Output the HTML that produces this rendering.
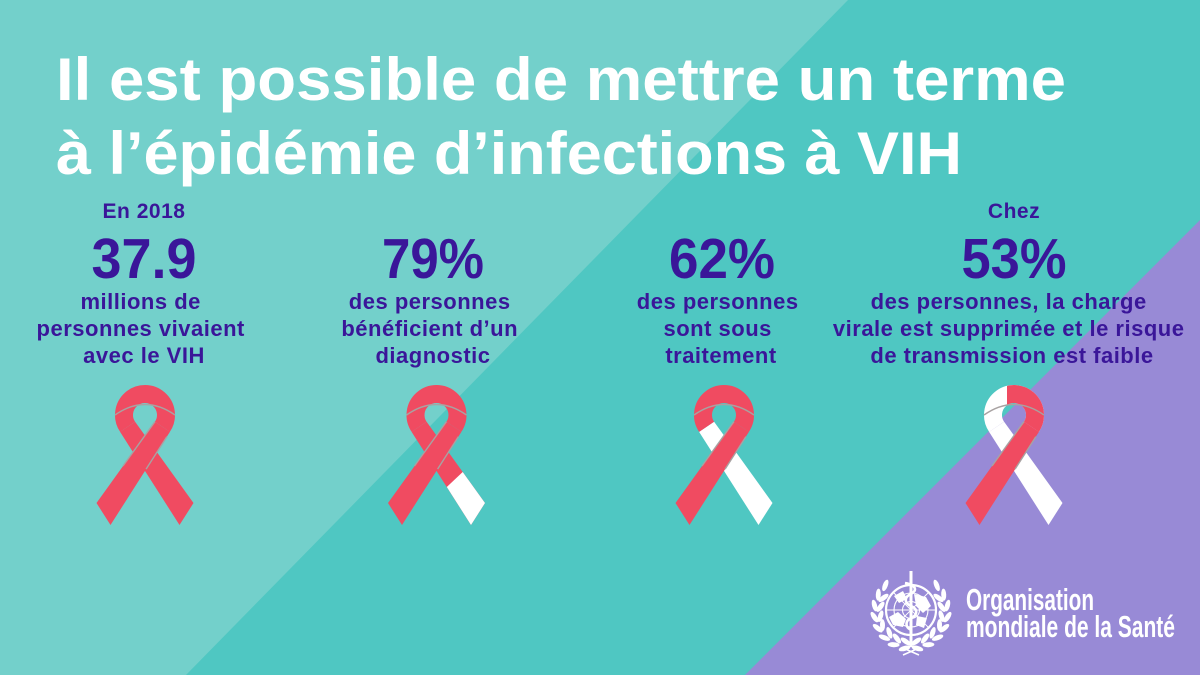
<!DOCTYPE html>
<html>
<head>
<meta charset="utf-8">
<title>Il est possible de mettre un terme à l’épidémie d’infections à VIH</title>
<style>
html,body{margin:0;padding:0;width:1200px;height:675px;overflow:hidden;background:#4FC7C2}
svg{display:block}
</style>
</head>
<body>
<svg xmlns="http://www.w3.org/2000/svg" width="1200" height="675" viewBox="0 0 1200 675">
<defs>
  <clipPath id="rh"><rect x="-7" y="-5" width="50" height="60"/></clipPath>
  <g id="laurel">
    <g fill="#fff">
      <ellipse cx="0" cy="0" rx="6" ry="2.5" transform="translate(-6.4,38.4) rotate(165)"/>
      <ellipse cx="0" cy="0" rx="6" ry="2.5" transform="translate(-5.2,31.5) rotate(215)"/>
      <ellipse cx="0" cy="0" rx="6" ry="2.5" transform="translate(-17.4,34.7) rotate(183)"/>
      <ellipse cx="0" cy="0" rx="6" ry="2.5" transform="translate(-14.1,28.5) rotate(233)"/>
      <ellipse cx="0" cy="0" rx="6" ry="2.5" transform="translate(-26.6,27.7) rotate(201)"/>
      <ellipse cx="0" cy="0" rx="6" ry="2.5" transform="translate(-21.6,22.8) rotate(251)"/>
      <ellipse cx="0" cy="0" rx="6" ry="2.5" transform="translate(-33.3,18.2) rotate(219)"/>
      <ellipse cx="0" cy="0" rx="6" ry="2.5" transform="translate(-28.5,15.1) rotate(269)"/>
      <ellipse cx="0" cy="0" rx="6" ry="2.5" transform="translate(-36.6,7.1) rotate(237)"/>
      <ellipse cx="0" cy="0" rx="6" ry="2.5" transform="translate(-30.5,6.2) rotate(287)"/>
      <ellipse cx="0" cy="0" rx="6" ry="2.5" transform="translate(-36.4,-4.4) rotate(255)"/>
      <ellipse cx="0" cy="0" rx="6" ry="2.5" transform="translate(-30.5,-3.2) rotate(305)"/>
      <ellipse cx="0" cy="0" rx="6" ry="2.5" transform="translate(-32.7,-15.4) rotate(273)"/>
      <ellipse cx="0" cy="0" rx="6" ry="2.5" transform="translate(-27.5,-12.1) rotate(323)"/>
      <ellipse cx="0" cy="0" rx="6" ry="2.5" transform="translate(-25.7,-24.6) rotate(291)"/>
    </g>
  </g>
</defs>

<!-- background -->
<rect width="1200" height="675" fill="#4FC7C2"/>
<polygon points="0,0 848,0 186,675 0,675" fill="#73D0CB"/>
<polygon points="1200,220 1200,675 745,675" fill="#988AD6"/>

<!-- title -->
<g font-family="'Liberation Sans', Arial, sans-serif" font-weight="700" fill="#ffffff">
  <text x="56" y="100" font-size="60" textLength="1010" lengthAdjust="spacingAndGlyphs">Il est possible de mettre un terme</text>
  <text x="56" y="174" font-size="60" textLength="906" lengthAdjust="spacingAndGlyphs">à l’épidémie d’infections à VIH</text>
</g>

<!-- stats -->
<g font-family="'Liberation Sans', Arial, sans-serif" font-weight="700" fill="#3A1699" text-anchor="middle">
  <text x="144" y="218" font-size="21" letter-spacing="0.5">En 2018</text>
  <text x="144" y="278" font-size="57" textLength="105" lengthAdjust="spacingAndGlyphs">37.9</text>
  <text font-size="22" letter-spacing="0.5">
    <tspan x="144" y="309">millions de</tspan>
    <tspan x="144" y="336">personnes vivaient</tspan>
    <tspan x="144" y="363">avec le VIH</tspan>
  </text>

  <text x="433" y="278" font-size="57" textLength="102" lengthAdjust="spacingAndGlyphs">79%</text>
  <text font-size="22" letter-spacing="0.5">
    <tspan x="433" y="309">des personnes</tspan>
    <tspan x="433" y="336">bénéficient d’un</tspan>
    <tspan x="433" y="363">diagnostic</tspan>
  </text>

  <text x="722" y="278" font-size="57" textLength="106" lengthAdjust="spacingAndGlyphs">62%</text>
  <text font-size="22" letter-spacing="0.5">
    <tspan x="721" y="309">des personnes</tspan>
    <tspan x="721" y="336">sont sous</tspan>
    <tspan x="721" y="363">traitement</tspan>
  </text>

  <text x="1014" y="218" font-size="21" letter-spacing="0.5">Chez</text>
  <text x="1014" y="278" font-size="57" textLength="105" lengthAdjust="spacingAndGlyphs">53%</text>
  <text font-size="22" letter-spacing="0.5">
    <tspan x="1012" y="309">des personnes, la charge</tspan>
    <tspan x="1012" y="336">virale est supprimée et le risque</tspan>
    <tspan x="1012" y="363">de transmission est faible</tspan>
  </text>
</g>

<!-- ribbon 1 : all red -->
<g transform="translate(145,385)">
  <polygon points="-9.9,36.7 -24.9,46.9 34.5,140 48.5,118" fill="#F04B61"/>
  <path d="M -17.4 41.8 A 21 21 0 1 1 17.4 41.8" stroke="#F04B61" stroke-width="18" fill="none"/>
  <polygon points="9.9,36.7 24.9,46.9 -34.5,140 -48.5,118" fill="#F04B61"/>
  <g stroke="#A8A2A2" stroke-width="1.4" fill="none">
    <path d="M -30 30 Q 0 9 30 30"/>
    <line x1="9.9" y1="36.7" x2="-22" y2="81"/>
    <line x1="21.9" y1="51.6" x2="1.1" y2="84.1"/>
  </g>
</g>

<!-- ribbon 2 : red with white lower-right tail -->
<g transform="translate(436.5,385)">
  <polygon points="-9.9,36.7 -24.9,46.9 34.5,140 48.5,118" fill="#F04B61"/>
  <polygon points="10.3,102 26.2,87 48.5,118 34.5,140" fill="#FFFFFF"/>
  <path d="M -17.4 41.8 A 21 21 0 1 1 17.4 41.8" stroke="#F04B61" stroke-width="18" fill="none"/>
  <polygon points="9.9,36.7 24.9,46.9 -34.5,140 -48.5,118" fill="#F04B61"/>
  <g stroke="#A8A2A2" stroke-width="1.4" fill="none">
    <path d="M -30 30 Q 0 9 30 30"/>
    <line x1="9.9" y1="36.7" x2="-22" y2="81"/>
    <line x1="21.9" y1="51.6" x2="1.1" y2="84.1"/>
  </g>
</g>

<!-- ribbon 3 : back strand white -->
<g transform="translate(724,385)">
  <polygon points="-9.9,36.7 -24.9,46.9 34.5,140 48.5,118" fill="#FFFFFF"/>
  <path d="M -17.4 41.8 A 21 21 0 1 1 17.4 41.8" stroke="#F04B61" stroke-width="18" fill="none"/>
  <polygon points="9.9,36.7 24.9,46.9 -34.5,140 -48.5,118" fill="#F04B61"/>
  <g stroke="#A8A2A2" stroke-width="1.4" fill="none">
    <path d="M -30 30 Q 0 9 30 30"/>
    <line x1="9.9" y1="36.7" x2="-22" y2="81"/>
    <line x1="21.9" y1="51.6" x2="1.1" y2="84.1"/>
  </g>
</g>

<!-- ribbon 4 : back strand + left loop white -->
<g transform="translate(1014,385)">
  <polygon points="-9.9,36.7 -24.9,46.9 34.5,140 48.5,118" fill="#FFFFFF"/>
  <path d="M -17.4 41.8 A 21 21 0 1 1 17.4 41.8" stroke="#FFFFFF" stroke-width="18" fill="none"/>
  <path d="M -17.4 41.8 A 21 21 0 1 1 17.4 41.8" stroke="#F04B61" stroke-width="18" fill="none" clip-path="url(#rh)"/>
  <polygon points="9.9,36.7 24.9,46.9 -34.5,140 -48.5,118" fill="#F04B61"/>
  <g stroke="#A8A2A2" stroke-width="1.4" fill="none">
    <path d="M -30 30 Q 0 9 30 30"/>
    <line x1="9.9" y1="36.7" x2="-22" y2="81"/>
    <line x1="21.9" y1="51.6" x2="1.1" y2="84.1"/>
  </g>
</g>

<!-- WHO emblem -->
<g transform="translate(911,610)">
  <g fill="none" stroke="#fff">
    <circle r="25" stroke-width="2.2"/>
    <circle r="17" stroke-width="1.1"/>
    <circle r="8.5" stroke-width="1.1"/>
    <line x1="-25" y1="0" x2="25" y2="0" stroke-width="1.1"/>
    <line x1="-17.7" y1="-17.7" x2="17.7" y2="17.7" stroke-width="1"/>
    <line x1="-17.7" y1="17.7" x2="17.7" y2="-17.7" stroke-width="1"/>
  </g>
  <g fill="#fff">
    <path d="M-22 7 L-13 2 L-5 9 L-8 17 L-18 15 Z"/>
    <path d="M3 -16 L15 -13 L20 -4 L12 3 L5 -4 Z"/>
    <path d="M6 6 L16 8 L13 18 L5 15 Z"/>
    <path d="M-17 -14 L-8 -19 L-4 -11 L-12 -7 Z"/>
  </g>
  <line x1="0" y1="-39" x2="0" y2="37" stroke="#fff" stroke-width="3"/>
  <path d="M-6 -27 C 6 -25, 6 -19, 0 -16 C -7 -13, -7 -7, 0 -4 C 7 -1, 7 5, 0 8 C -6 11, -6 17, 0 20" fill="none" stroke="#fff" stroke-width="2.6"/>
  <use href="#laurel"/>
  <use href="#laurel" transform="scale(-1,1)"/>
  <path d="M -8 38 L 8 45 M 8 38 L -8 45" stroke="#fff" stroke-width="1.6"/>
</g>

<!-- WHO text -->
<g font-family="'Liberation Sans Narrow','Liberation Sans',Arial,sans-serif" font-weight="700" fill="#ffffff">
  <text x="966" y="610" font-size="31" textLength="128" lengthAdjust="spacingAndGlyphs">Organisation</text>
  <text x="966" y="637" font-size="31" textLength="209" lengthAdjust="spacingAndGlyphs">mondiale de la Santé</text>
</g>
</svg>
</body>
</html>
